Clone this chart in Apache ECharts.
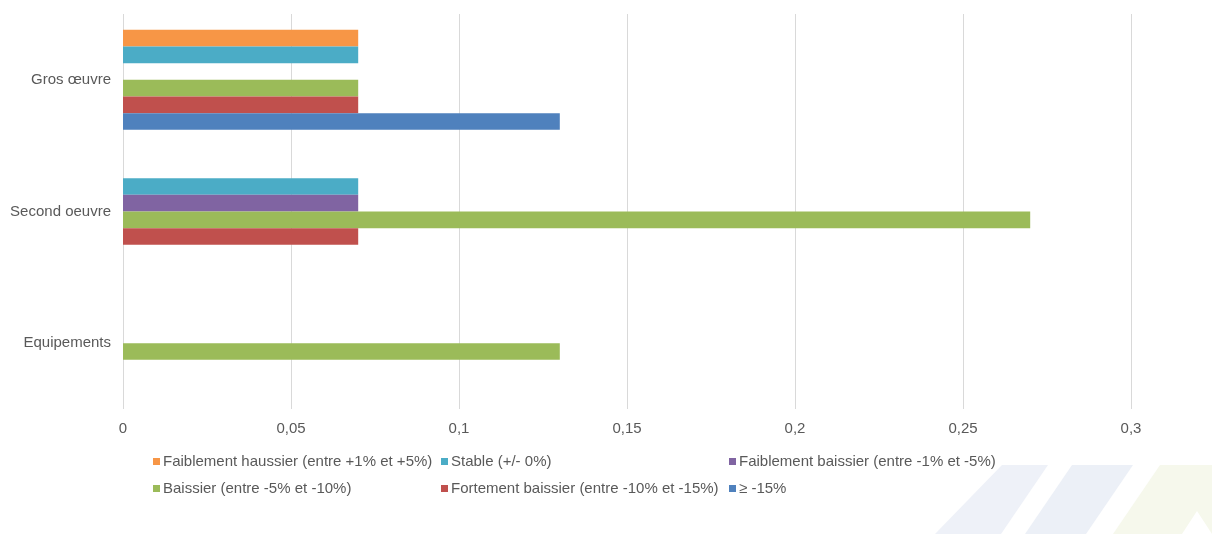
<!DOCTYPE html>
<html>
<head>
<meta charset="utf-8">
<script src="https://cdn.jsdelivr.net/npm/echarts@6/dist/echarts.min.js"></script>
<style>
  html, body { margin: 0; padding: 0; background: #ffffff; }
  #chart { width: 1212px; height: 534px; }
</style>
</head>
<body>
<div id="chart"></div>
<script>
// Work categories (top to bottom)
const categories = ['Gros œuvre', 'Second oeuvre', 'Equipements'];

// Share of answers per trend, one value per category
const faiblementHaussier = [0.07, 0, 0];
const stable = [0.07, 0.07, 0];
const faiblementBaissier = [0, 0.07, 0];
const baissier = [0.07, 0.27, 0.13];
const fortementBaissier = [0.07, 0.07, 0];
const moins15 = [0.13, 0, 0];

const seriesNames = [
  'Faiblement haussier (entre +1% et +5%)',
  'Stable (+/- 0%)',
  'Faiblement baissier (entre -1% et -5%)',
  'Baissier (entre -5% et -10%)',
  'Fortement baissier (entre -10% et -15%)',
  '≥ -15%'
];
const seriesValues = [faiblementHaussier, stable, faiblementBaissier, baissier, fortementBaissier, moins15];
const colors = ['#F79646', '#4BACC6', '#8064A2', '#9BBB59', '#C0504D', '#4F81BD'];

const font = '"Liberation Sans", Arial, sans-serif';
const textColor = '#595959';

// Legend laid out as a 3-column grid
const legendPos = [
  { left: 153, top: 454 }, { left: 441, top: 454 }, { left: 729, top: 454 },
  { left: 153, top: 481 }, { left: 441, top: 481 }, { left: 729, top: 481 }
];
const legends = seriesNames.map((name, i) => ({
  data: [name],
  left: legendPos[i].left,
  top: legendPos[i].top,
  padding: 0,
  icon: 'rect',
  itemWidth: 7,
  itemHeight: 7,
  itemGap: 0,
  selectedMode: false,
  textStyle: { color: textColor, fontFamily: font, fontSize: 15, padding: [0, 0, 0, -2] }
}));

const chart = echarts.init(document.getElementById('chart'), null, { renderer: 'canvas' });

chart.setOption({
  backgroundColor: '#ffffff',
  animation: false,
  color: colors,
  grid: { left: 123, right: 81, top: 14, bottom: 125, containLabel: false },
  legend: legends,
  xAxis: {
    type: 'value',
    min: 0,
    max: 0.3,
    interval: 0.05,
    axisLine: { show: false },
    axisTick: { show: false },
    splitLine: { show: true, lineStyle: { color: '#d9d9d9', width: 1 } },
    axisLabel: {
      margin: 12,
      color: textColor,
      fontFamily: font,
      fontSize: 15,
      formatter: v => String(Math.round(v * 100) / 100).replace('.', ',')
    }
  },
  yAxis: {
    type: 'category',
    inverse: true,
    data: categories,
    axisLine: { show: false },
    axisTick: { show: false },
    splitLine: { show: false },
    axisLabel: { margin: 12, color: textColor, fontFamily: font, fontSize: 15 }
  },
  series: seriesNames.map((name, i) => ({
    name: name,
    type: 'bar',
    data: seriesValues[i],
    barGap: '0%',
    barCategoryGap: '24%',
    itemStyle: { color: colors[i] }
  })),
  // Faint diagonal stripes of the logo in the lower right corner
  graphic: [
    { type: 'polygon', silent: true, z: -10,
      shape: { points: [[1002, 465], [1048, 465], [1001, 534], [935, 534]] },
      style: { fill: '#eef1f8' } },
    { type: 'polygon', silent: true, z: -10,
      shape: { points: [[1072, 465], [1133, 465], [1086, 534], [1025, 534]] },
      style: { fill: '#ecf0f7' } },
    { type: 'polygon', silent: true, z: -10,
      shape: { points: [[1160, 465], [1212, 465], [1212, 534], [1113, 534]] },
      style: { fill: '#f6f8ec' } },
    { type: 'polygon', silent: true, z: -9,
      shape: { points: [[1197, 511], [1212, 534], [1182, 534]] },
      style: { fill: '#ffffff' } }
  ]
});
</script>
</body>
</html>
